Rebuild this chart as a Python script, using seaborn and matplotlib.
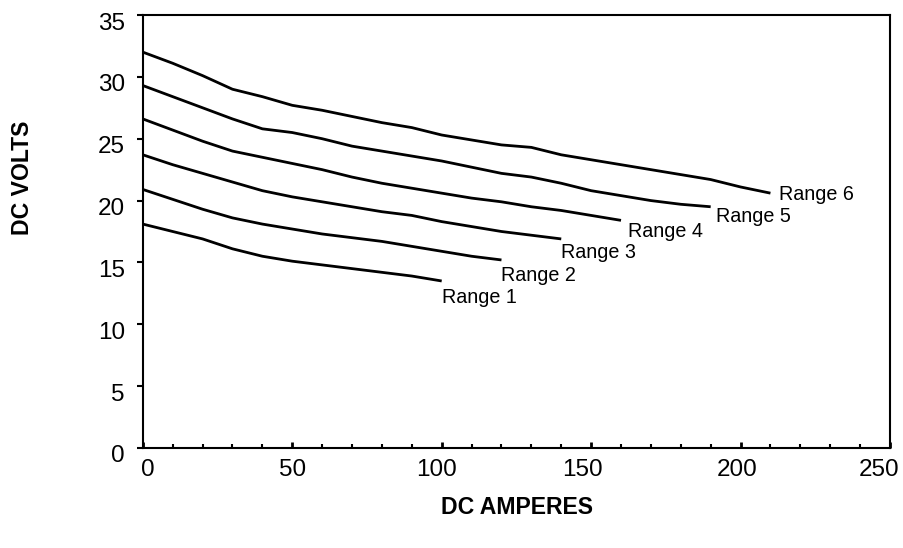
import numpy as np
import pandas as pd
import matplotlib
matplotlib.use('Agg')
import matplotlib.pyplot as plt
import matplotlib.transforms as mtransforms
import seaborn as sns

# Data (DC amperes vs DC volts)
amps_1 = [0, 10, 20, 30, 40, 50, 60, 70, 80, 90, 100]
volts_1 = [18.1, 17.5, 16.9, 16.1, 15.5, 15.1, 14.8, 14.5, 14.2, 13.9, 13.5]

amps_2 = [0, 10, 20, 30, 40, 50, 60, 70, 80, 90, 100, 110, 120]
volts_2 = [20.9, 20.1, 19.3, 18.6, 18.1, 17.7, 17.3, 17.0, 16.7, 16.3, 15.9, 15.5, 15.2]

amps_3 = [0, 10, 20, 30, 40, 50, 60, 70, 80, 90, 100, 110, 120, 130, 140]
volts_3 = [23.7, 22.9, 22.2, 21.5, 20.8, 20.3, 19.9, 19.5, 19.1, 18.8, 18.3, 17.9, 17.5, 17.2, 16.9]

amps_4 = [0, 10, 20, 30, 40, 50, 60, 70, 80, 90, 100, 110, 120, 130, 140, 150, 160]
volts_4 = [26.6, 25.7, 24.8, 24.0, 23.5, 23.0, 22.5, 21.9, 21.4, 21.0, 20.6, 20.2, 19.9, 19.5,
           19.2, 18.8, 18.4]

amps_5 = [0, 10, 20, 30, 40, 50, 60, 70, 80, 90, 100, 110, 120, 130, 140, 150, 160, 170, 180, 190]
volts_5 = [29.3, 28.4, 27.5, 26.6, 25.8, 25.5, 25.0, 24.4, 24.0, 23.6, 23.2, 22.7, 22.2, 21.9,
           21.4, 20.8, 20.4, 20.0, 19.7, 19.5]

amps_6 = [0, 10, 20, 30, 40, 50, 60, 70, 80, 90, 100, 110, 120, 130, 140, 150, 160, 170, 180,
          190, 200, 210]
volts_6 = [32.0, 31.1, 30.1, 29.0, 28.4, 27.7, 27.3, 26.8, 26.3, 25.9, 25.3, 24.9, 24.5, 24.3,
           23.7, 23.3, 22.9, 22.5, 22.1, 21.7, 21.1, 20.6]

range_names = ['Range 1', 'Range 2', 'Range 3', 'Range 4', 'Range 5', 'Range 6']
x_ticks = [0, 50, 100, 150, 200, 250]
y_ticks = [0, 5, 10, 15, 20, 25, 30, 35]

all_amps = [amps_1, amps_2, amps_3, amps_4, amps_5, amps_6]
all_volts = [volts_1, volts_2, volts_3, volts_4, volts_5, volts_6]

frames = []
for name, a, v in zip(range_names, all_amps, all_volts):
    frames.append(pd.DataFrame({'amps': a, 'volts': v, 'range': name}))
df = pd.concat(frames, ignore_index=True)

sns.set_style('ticks')
plt.rcParams['font.family'] = ['Liberation Sans', 'DejaVu Sans']
plt.rcParams['text.color'] = 'black'
plt.rcParams['xtick.color'] = 'black'
plt.rcParams['ytick.color'] = 'black'

fig = plt.figure(figsize=(9.04, 5.48), dpi=100)
ax = fig.add_axes([0.158, 0.1825, 0.8265, 0.7901])

sns.lineplot(data=df, x='amps', y='volts', hue='range', palette=['black'] * 6,
             linewidth=2.0, legend=False, ax=ax, solid_joinstyle='round', solid_capstyle='butt')

# labels next to each curve end (offset in points: dx, dy)
label_offsets = [(0, -12), (0, -11), (0, -10), (5, -8), (4, -7), (6, -1)]
for name, a, v, off in zip(range_names, all_amps, all_volts, label_offsets):
    ax.annotate(name, xy=(a[-1], v[-1]), xytext=off, textcoords='offset points',
                ha='left', va='center', fontsize=14.2, color='black')

ax.set_xlim(0, 250)
ax.set_ylim(0, 35)
ax.set_xticks(x_ticks)
ax.set_yticks(y_ticks)
ax.set_xticks(np.arange(0, 251, 10), minor=True)
ax.set_xlabel('')
ax.set_ylabel('')

for s in ax.spines.values():
    s.set_visible(True)
    s.set_linewidth(1.5)
    s.set_color('black')

ax.tick_params(axis='x', which='major', direction='in', length=4, width=2, pad=8,
               labelsize=17.5)
ax.tick_params(axis='x', which='minor', direction='in', length=3, width=1.5)
ax.tick_params(axis='y', which='major', direction='out', length=4, width=1.5, pad=9,
               labelsize=17.5)

# tick labels in the original sit a little off their ticks
shift = mtransforms.ScaledTranslation(0, -6 / 100, fig.dpi_scale_trans)
for lbl in ax.get_yticklabels():
    lbl.set_transform(lbl.get_transform() + shift)
x_label_dx = [5, 0, -5, -9, -3, -11]
for lbl, dx in zip(ax.get_xticklabels(), x_label_dx):
    lbl.set_transform(lbl.get_transform() +
                      mtransforms.ScaledTranslation(dx / 100, 0, fig.dpi_scale_trans))

fig.text(517 / 904, 1 - 508 / 548, 'DC AMPERES', ha='center', va='center',
         fontsize=16.6, fontweight='bold')
fig.text(23 / 904, 1 - 178 / 548, 'DC VOLTS', ha='center', va='center',
         fontsize=16.6, fontweight='bold', rotation=90)

fig.savefig('out.png', dpi=100)
